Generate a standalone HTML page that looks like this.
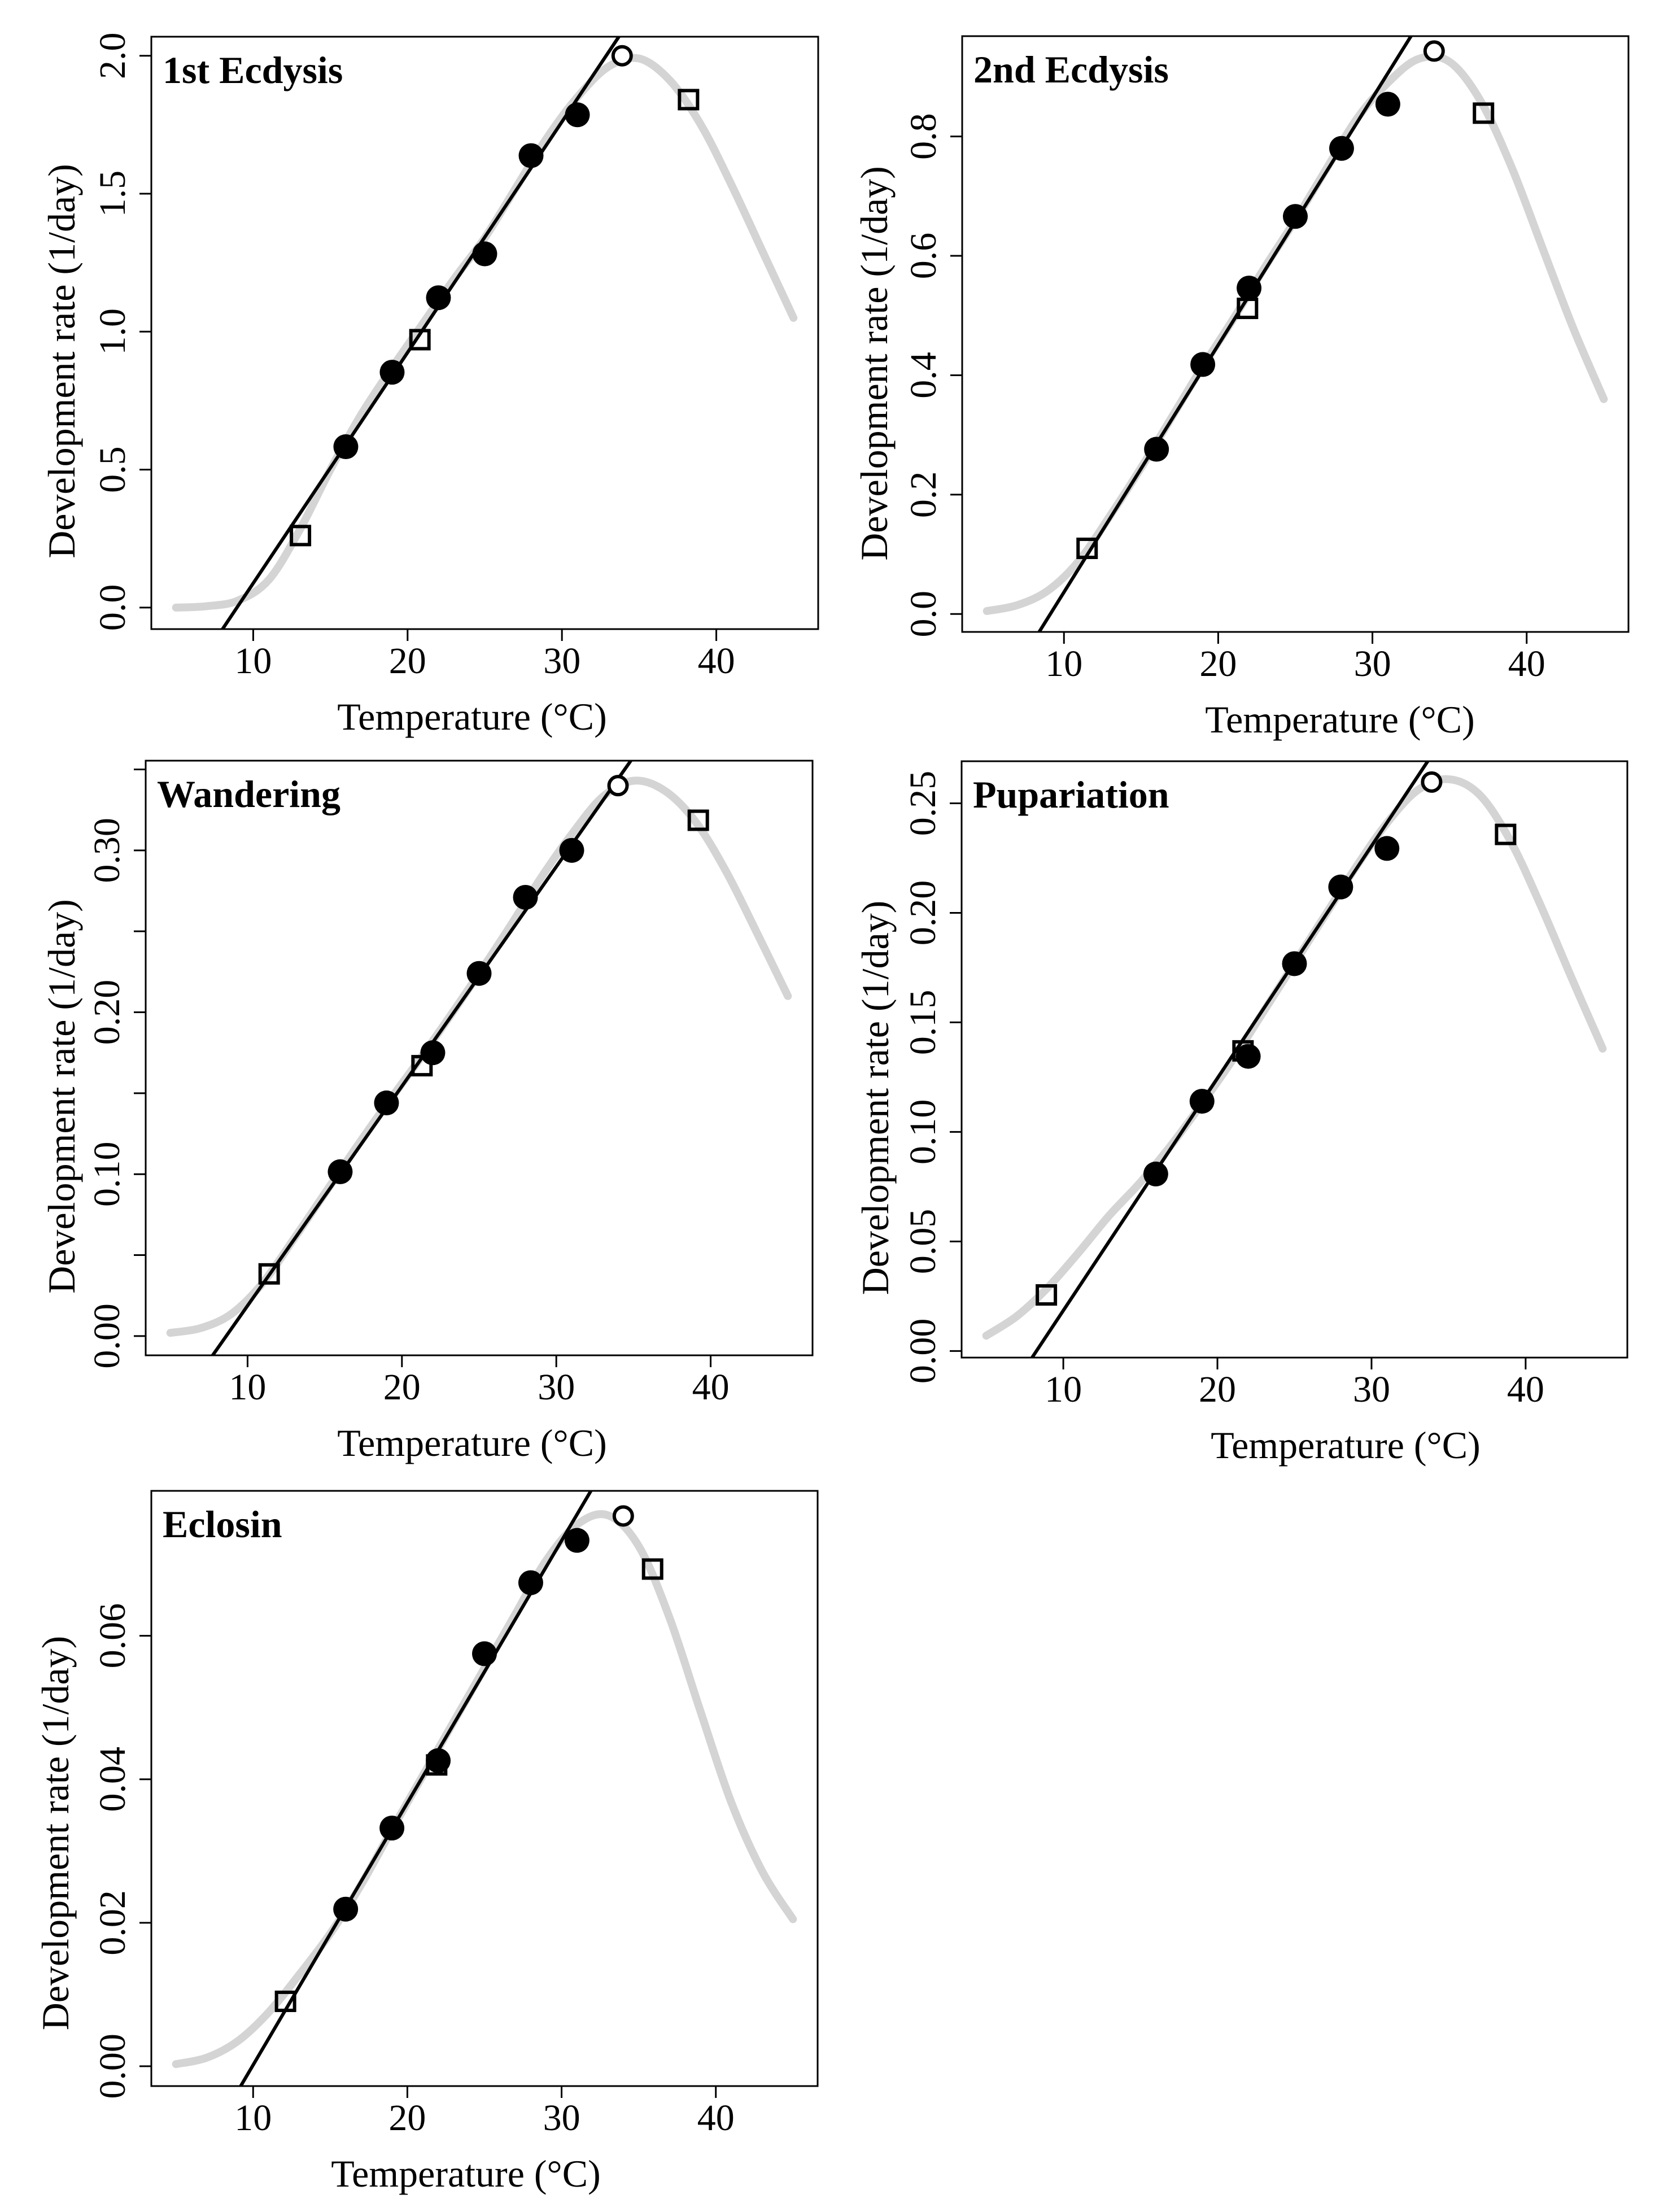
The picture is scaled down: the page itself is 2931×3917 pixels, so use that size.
<!DOCTYPE html>
<html><head><meta charset="utf-8">
<style>
html,body{margin:0;padding:0;background:#fff;}
svg{display:block;}
text{font-family:"Liberation Serif",serif;fill:#000;}
</style></head>
<body>
<svg id="fig" width="2931" height="3917" viewBox="0 0 2931 3917" xmlns="http://www.w3.org/2000/svg"></svg>
<script>
// ---------- shared ----------
const curveTemps = [5,7,9,11,13,15,17,19,21,23,25,27,29,31,33,35,37,39,41,43,45];
const xTickValues = [10,20,30,40];
const xLimits = [3.4, 46.6];

// ---------- 1st Ecdysis ----------
const ecd1FilledT = [16,19,22,25,28,31];
const ecd1FilledR = [0.583,0.853,1.123,1.282,1.638,1.786];
const ecd1SquareT = [13.06,20.8,38.2];
const ecd1SquareR = [0.261,0.971,1.841];
const ecd1OpenT = [33.9];
const ecd1OpenR = [2.0];
const ecd1LineT = [8.06,33.7];
const ecd1LineR = [-0.074,2.07];
const ecd1CurveR = [0,0.005,0.025,0.10,0.28,0.50,0.70,0.87,1.03,1.19,1.34,1.52,1.70,1.85,1.96,1.99,1.91,1.75,1.53,1.29,1.05];
const ecd1YTicks = [0,0.5,1.0,1.5,2.0];
const ecd1YLabels = ["0.0","0.5","1.0","1.5","2.0"];

// ---------- 2nd Ecdysis ----------
const ecd2FilledT = [16,19,22,25,28,31];
const ecd2FilledR = [0.276,0.418,0.546,0.666,0.780,0.854];
const ecd2SquareT = [11.5,21.9,37.2];
const ecd2SquareR = [0.110,0.512,0.839];
const ecd2OpenT = [34];
const ecd2OpenR = [0.943];
const ecd2LineT = [8.44,32.5];
const ecd2LineR = [-0.028,0.968];
const ecd2CurveR = [0.005,0.015,0.04,0.09,0.165,0.245,0.33,0.415,0.495,0.58,0.66,0.745,0.83,0.89,0.93,0.925,0.86,0.75,0.615,0.48,0.36];
const ecd2YTicks = [0,0.2,0.4,0.6,0.8];
const ecd2YLabels = ["0.0","0.2","0.4","0.6","0.8"];

// ---------- Wandering ----------
const wandFilledT = [16,19,22,25,28,31];
const wandFilledR = [0.1015,0.144,0.175,0.224,0.271,0.300];
const wandSquareT = [11.4,21.3,39.2];
const wandSquareR = [0.0384,0.167,0.3186];
const wandOpenT = [34];
const wandOpenR = [0.340];
const wandLineT = [7.74,34.8];
const wandLineR = [-0.0119,0.355];
const wandCurveR = [0.002,0.005,0.014,0.033,0.06,0.088,0.116,0.143,0.169,0.196,0.224,0.253,0.283,0.31,0.333,0.343,0.337,0.318,0.287,0.249,0.21];
const wandYTicks = [0,0.05,0.10,0.15,0.20,0.25,0.30,0.35];
const wandYLabels = ["0.00","","0.10","","0.20","","0.30",""];

// ---------- Pupariation ----------
const pupFilledT = [16,19,22,25,28,31];
const pupFilledR = [0.0808,0.114,0.1345,0.1768,0.2118,0.2294];
const pupSquareT = [8.9,21.66,38.7];
const pupSquareR = [0.0256,0.137,0.2358];
const pupOpenT = [33.9];
const pupOpenR = [0.2597];
const pupLineT = [8.03,33.63];
const pupLineR = [-0.0024,0.269];
const pupCurveR = [0.007,0.016,0.029,0.045,0.062,0.077,0.094,0.113,0.133,0.155,0.177,0.199,0.221,0.241,0.256,0.261,0.254,0.233,0.203,0.170,0.138];
const pupYTicks = [0,0.05,0.10,0.15,0.20,0.25];
const pupYLabels = ["0.00","0.05","0.10","0.15","0.20","0.25"];

// ---------- Eclosin ----------
const eclFilledT = [16,19,22,25,28,31];
const eclFilledR = [0.0219,0.0332,0.0426,0.0575,0.0674,0.0733];
const eclSquareT = [12.1,21.9,35.9];
const eclSquareR = [0.00905,0.042,0.0693];
const eclOpenT = [34];
const eclOpenR = [0.0767];
const eclLineT = [9.24,31.9];
const eclLineR = [-0.0026,0.0802];
const eclCurveR = [0.0003,0.0012,0.0035,0.0075,0.0128,0.0185,0.0253,0.033,0.0405,0.048,0.0555,0.063,0.0705,0.0755,0.0768,0.0725,0.0625,0.0495,0.0368,0.0272,0.0205];
const eclYTicks = [0,0.02,0.04,0.06];
const eclYLabels = ["0.00","0.02","0.04","0.06"];

const panels = [
 {id:"first-ecdysis", title:"1st Ecdysis", L:268,R:1449,T:65,B:1114, yTop:2.069, yBot:-0.078,
  fT:ecd1FilledT,fR:ecd1FilledR,sT:ecd1SquareT,sR:ecd1SquareR,oT:ecd1OpenT,oR:ecd1OpenR,lT:ecd1LineT,lR:ecd1LineR,cR:ecd1CurveR,yt:ecd1YTicks,yl:ecd1YLabels,
  xTitleX:836, yTitleOff:-136, yTitleDy:50},
 {id:"second-ecdysis", title:"2nd Ecdysis", L:1704,R:2884,T:64,B:1119, yTop:0.968, yBot:-0.030,
  fT:ecd2FilledT,fR:ecd2FilledR,sT:ecd2SquareT,sR:ecd2SquareR,oT:ecd2OpenT,oR:ecd2OpenR,lT:ecd2LineT,lR:ecd2LineR,cR:ecd2CurveR,yt:ecd2YTicks,yl:ecd2YLabels,
  xTitleX:2373, yTitleOff:-133, yTitleDy:52},
 {id:"wandering", title:"Wandering", L:258,R:1439,T:1347,B:2400, yTop:0.3554, yBot:-0.0119,
  fT:wandFilledT,fR:wandFilledR,sT:wandSquareT,sR:wandSquareR,oT:wandOpenT,oR:wandOpenR,lT:wandLineT,lR:wandLineR,cR:wandCurveR,yt:wandYTicks,yl:wandYLabels,
  xTitleX:836, yTitleOff:-126, yTitleDy:68},
 {id:"pupariation", title:"Pupariation", L:1703,R:2882,T:1348,B:2404, yTop:0.2692, yBot:-0.0030,
  fT:pupFilledT,fR:pupFilledR,sT:pupSquareT,sR:pupSquareR,oT:pupOpenT,oR:pupOpenR,lT:pupLineT,lR:pupLineR,cR:pupCurveR,yt:pupYTicks,yl:pupYLabels,
  xTitleX:2383, yTitleOff:-130, yTitleDy:68},
 {id:"eclosin", title:"Eclosin", L:268,R:1448,T:2640,B:3694, yTop:0.0802, yBot:-0.00276,
  fT:eclFilledT,fR:eclFilledR,sT:eclSquareT,sR:eclSquareR,oT:eclOpenT,oR:eclOpenR,lT:eclLineT,lR:eclLineR,cR:eclCurveR,yt:eclYTicks,yl:eclYLabels,
  xTitleX:825, yTitleOff:-147, yTitleDy:79}
];

const NS = "http://www.w3.org/2000/svg";
const svg = document.getElementById("fig");
function mk(tag, parent, attrs){
  const e = document.createElementNS(NS, tag);
  for (const k in attrs) e.setAttribute(k, attrs[k]);
  parent.appendChild(e);
  return e;
}

panels.forEach((p, pi) => {
  const g = mk("g", svg, {});
  
  
  const xs = v => p.L + (v - xLimits[0]) / (xLimits[1] - xLimits[0]) * (p.R - p.L);
  const ys = v => p.B - (v - p.yBot) / (p.yTop - p.yBot) * (p.B - p.T);

  const clipId = "clip" + pi;
  const cp = mk("clipPath", g, {id: clipId});
  mk("rect", cp, {x:p.L, y:p.T, width:p.R-p.L, height:p.B-p.T});
  const plot = mk("g", g, {"clip-path":"url(#" + clipId + ")"});
  
  

  const pts = curveTemps.map((t, i) => [xs(t), ys(p.cR[i])]);
  let d = "M" + pts[0][0].toFixed(1) + "," + pts[0][1].toFixed(1);
  for (let i = 0; i < pts.length - 1; i++) {
    const p0 = pts[Math.max(0, i-1)], p1 = pts[i], p2 = pts[i+1], p3 = pts[Math.min(pts.length-1, i+2)];
    const c1 = [p1[0] + (p2[0]-p0[0])/6, p1[1] + (p2[1]-p0[1])/6];
    const c2 = [p2[0] - (p3[0]-p1[0])/6, p2[1] - (p3[1]-p1[1])/6];
    d += " C" + c1[0].toFixed(1) + "," + c1[1].toFixed(1) + " " + c2[0].toFixed(1) + "," + c2[1].toFixed(1) + " " + p2[0].toFixed(1) + "," + p2[1].toFixed(1);
  }
  const curve = mk("path", plot, {d:d, fill:"none", stroke:"#d4d4d4", "stroke-width":14, "stroke-linecap":"round", "stroke-linejoin":"round"});
  
  

  const slope = (p.lR[1]-p.lR[0])/(p.lT[1]-p.lT[0]);
  const xa = xLimits[0], xb = xLimits[1];
  const ln = mk("line", plot, {x1:xs(xa), y1:ys(p.lR[0] + slope*(xa-p.lT[0])), x2:xs(xb), y2:ys(p.lR[0] + slope*(xb-p.lT[0])), stroke:"#000", "stroke-width":6});
  
  

  p.sT.forEach((t, i) => {
    const s = mk("rect", g, {x:xs(t)-16, y:ys(p.sR[i])-16, width:32, height:32, fill:"none", stroke:"#000", "stroke-width":6});
    
    
  });
  p.fT.forEach((t, i) => {
    const c = mk("circle", g, {cx:xs(t), cy:ys(p.fR[i]), r:22, fill:"#000"});
    
    
  });
  p.oT.forEach((t, i) => {
    const c = mk("circle", g, {cx:xs(t), cy:ys(p.oR[i]), r:16, fill:"#fff", stroke:"#000", "stroke-width":6});
    
    
  });

  const fr = mk("rect", g, {x:p.L, y:p.T, width:p.R-p.L, height:p.B-p.T, fill:"none", stroke:"#000", "stroke-width":3});
  
  

  xTickValues.forEach(v => {
    const tk = mk("line", g, {x1:xs(v), y1:p.B, x2:xs(v), y2:p.B+21, stroke:"#000", "stroke-width":3});
    
    
    const tl = mk("text", g, {x:xs(v), y:p.B+78, "text-anchor":"middle", "font-size":66});
    tl.textContent = String(v);
    
    
  });
  p.yt.forEach((v, i) => {
    const tk = mk("line", g, {x1:p.L-21, y1:ys(v), x2:p.L, y2:ys(v), stroke:"#000", "stroke-width":3});
    
    
    if (p.yl[i]) {
      const bx = p.L - 47, by = ys(v);
      const tl = mk("text", g, {x:bx, y:by, "text-anchor":"middle", "font-size":66, transform:"rotate(-90 " + bx + " " + by + ")"});
      tl.textContent = p.yl[i];
      
      
    }
  });

  const xt = mk("text", g, {x:p.xTitleX, y:p.B+178, "text-anchor":"middle", "font-size":68});
  xt.textContent = "Temperature (°C)";
  
  

  const yx = p.L + p.yTitleOff, yy = (p.T + p.B)/2 + p.yTitleDy;
  const yt = mk("text", g, {x:yx, y:yy, "text-anchor":"middle", "font-size":68, transform:"rotate(-90 " + yx + " " + yy + ")"});
  yt.textContent = "Development rate (1/day)";
  
  

  const pl = mk("text", g, {x:p.L+20, y:p.T+82, "font-size":68, "font-weight":"bold"});
  pl.textContent = p.title;
  
  
});
</script>
</body></html>
